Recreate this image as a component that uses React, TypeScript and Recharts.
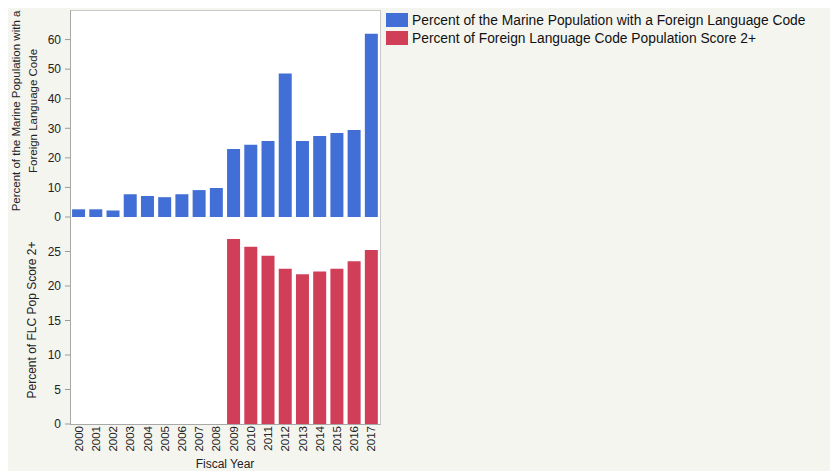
import { Bar, BarChart, Label, XAxis, YAxis } from 'recharts'

const years = [
  '2000', '2001', '2002', '2003', '2004', '2005', '2006', '2007', '2008',
  '2009', '2010', '2011', '2012', '2013', '2014', '2015', '2016', '2017',
]

const flcPercent = [
  2.6, 2.6, 2.2, 7.7, 7.1, 6.7, 7.7, 9.1, 9.8,
  23.0, 24.4, 25.7, 48.5, 25.7, 27.4, 28.4, 29.4, 62.0,
]

const score2Percent = [
  null, null, null, null, null, null, null, null, null,
  26.8, 25.7, 24.4, 22.5, 21.7, 22.1, 22.5, 23.6, 25.2,
]

const topTicks = [0, 10, 20, 30, 40, 50, 60]
const bottomTicks = [0, 5, 10, 15, 20, 25]

const seriesNames = [
  'Percent of the Marine Population with a Foreign Language Code',
  'Percent of Foreign Language Code Population Score 2+',
]

const BLUE = '#416fd5'
const RED = '#d03f57'
const FONT = '"Liberation Sans", Arial, sans-serif'

const rows = years.map((year, i) => ({
  year,
  flc: flcPercent[i],
  score: score2Percent[i],
}))

function YearTick(props: any) {
  const { x, y, payload } = props
  return (
    <text
      x={x}
      y={y}
      transform={`rotate(-90, ${x}, ${y})`}
      textAnchor="end"
      dominantBaseline="central"
      fontSize={11.5}
      fill="#222"
      fontFamily={FONT}
    >
      {payload.value}
    </text>
  )
}

const tickStyle = { fontSize: 12, fill: '#222', fontFamily: FONT }

export default function App() {
  return (
    <div
      style={{
        position: 'relative',
        width: 830,
        height: 463,
        background: '#f5f5f0',
        fontFamily: FONT,
      }}
    >
      <div
        style={{
          position: 'absolute',
          left: 62,
          top: 2,
          width: 309,
          height: 413,
          background: '#fff',
          borderTop: '1px solid #c8c8c8',
          borderRight: '1px solid #c8c8c8',
          borderLeft: '1px solid #a8a8a8',
          borderBottom: '1px solid #a8a8a8',
        }}
      />

      <div style={{ position: 'absolute', left: 0, top: 0 }}>
        <BarChart
          width={372}
          height={222}
          data={rows}
          margin={{ top: 2, right: 0, bottom: 13, left: 32 }}
          barCategoryGap="12%"
        >
          <XAxis dataKey="year" hide />
          <YAxis
            width={30}
            domain={[0, 70]}
            ticks={topTicks}
            tick={tickStyle}
            tickSize={5}
            tickMargin={4}
            axisLine={false}
            tickLine={{ stroke: '#999' }}
            interval={0}
          >
            <Label
              content={() => (
                <text
                  transform="rotate(-90, 20, 103)"
                  x={20}
                  y={103}
                  textAnchor="middle"
                  fontSize={11.5}
                  fill="#222"
                  fontFamily={FONT}
                >
                  <tspan x={20} dy={-8}>
                    Percent of the Marine Population with a
                  </tspan>
                  <tspan x={20} dy={17}>
                    Foreign Language Code
                  </tspan>
                </text>
              )}
            />
          </YAxis>
          <Bar dataKey="flc" fill={BLUE} isAnimationActive={false} />
        </BarChart>
      </div>

      <div style={{ position: 'absolute', left: 0, top: 209 }}>
        <BarChart
          width={372}
          height={254}
          data={rows}
          margin={{ top: 0, right: 0, bottom: 0, left: 32 }}
          barCategoryGap="12%"
        >
          <XAxis
            dataKey="year"
            height={47}
            interval={0}
            tick={<YearTick />}
            tickLine={false}
            tickSize={0}
            tickMargin={2}
            axisLine={false}
          >
            <Label
              value="Fiscal Year"
              position="insideBottom"
              offset={3}
              style={{ fontSize: 12, fill: '#222', fontFamily: FONT }}
            />
          </XAxis>
          <YAxis
            width={30}
            domain={[0, 30]}
            ticks={bottomTicks}
            tick={tickStyle}
            tickSize={5}
            tickMargin={4}
            axisLine={false}
            tickLine={{ stroke: '#999' }}
            interval={0}
          >
            <Label
              content={() => (
                <text
                  transform="rotate(-90, 28, 103)"
                  x={28}
                  y={103}
                  textAnchor="middle"
                  fontSize={12}
                  fill="#222"
                  fontFamily={FONT}
                >
                  Percent of FLC Pop Score 2+
                </text>
              )}
            />
          </YAxis>
          <Bar dataKey="score" fill={RED} isAnimationActive={false} />
        </BarChart>
      </div>

      <div style={{ position: 'absolute', left: 378, top: 3, fontSize: 13.8, color: '#111' }}>
        {seriesNames.map((name, i) => (
          <div key={name} style={{ display: 'flex', alignItems: 'center', height: 18 }}>
            <div
              style={{
                width: 22,
                height: 14,
                marginRight: 4,
                background: i === 0 ? BLUE : RED,
              }}
            />
            <span>{name}</span>
          </div>
        ))}
      </div>
    </div>
  )
}
